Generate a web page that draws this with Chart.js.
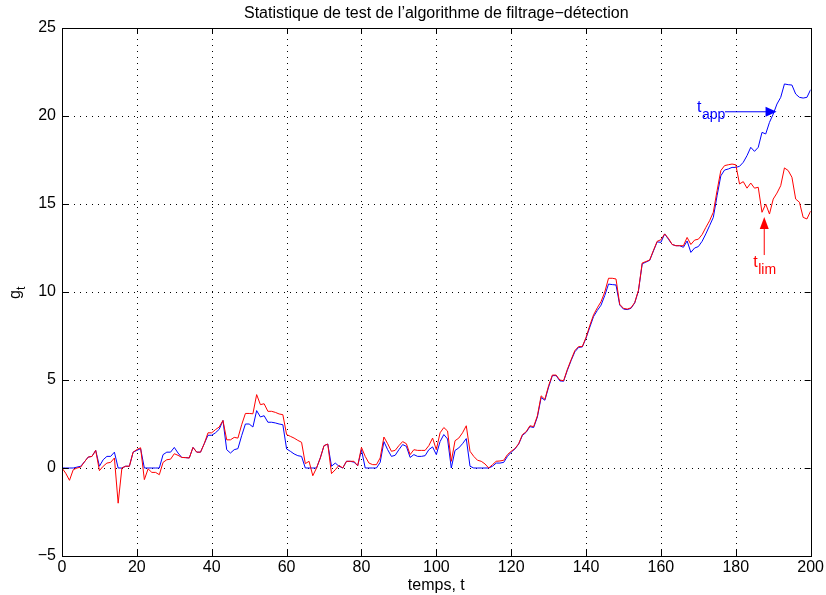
<!DOCTYPE html>
<html>
<head>
<meta charset="utf-8">
<script src="https://cdn.jsdelivr.net/npm/chart.js@4/dist/chart.umd.min.js"></script>
<style>
  html, body { margin: 0; padding: 0; background: #fff; }
  #wrap { width: 826px; height: 595px; }
</style>
</head>
<body>
<div id="wrap"><canvas id="chart" width="826" height="595"></canvas></div>
<script>
// valeurs, t = 0..200
const gBleu = [
  0, 0, 0, 0, 0.05, 0.1, 0.35, 0.62, 0.66, 1.0,
  0.1, 0.47, 0.66, 0.66, 0.9, 0, 0, 0.1, 0.1, 0.9,
  1.0, 1.1, 0, 0, 0, 0, 0, 0.76, 0.9, 0.9,
  1.17, 0.85, 0.6, 0.59, 0.57, 1.17, 0.9, 0.9, 1.38, 1.86,
  1.86, 2.0, 2.2, 2.7, 1.04, 0.85, 1.04, 1.1, 1.84, 2.5,
  2.5, 2.33, 3.26, 2.9, 2.97, 2.6, 2.6, 2.56, 2.5, 2.46,
  1.08, 0.95, 0.8, 0.7, 0.66, 0, 0, 0, 0, 0.57,
  1.27, 1.36, 0.1, 0.28, 0.1, 0, 0.38, 0.38, 0.33, 0.13,
  1.04, 0, 0, 0, 0, 0.32, 1.5, 1.04, 0.66, 0.72,
  1.04, 1.33, 1.23, 0.6, 0.76, 0.66, 0.66, 0.7, 1.04, 1.2,
  0.76, 1.5, 1.9, 1.65, 0, 1.0, 1.14, 1.38, 1.67, 0.1,
  0, 0, 0, 0, 0, 0.1, 0.28, 0.28, 0.32, 0.66,
  0.9, 1.08, 1.36, 1.85, 2.03, 2.35, 2.3, 2.9, 4.0, 3.85,
  4.6, 5.25, 5.25, 4.95, 4.93, 5.55, 6.1, 6.6, 6.85, 6.88,
  7.38, 8.0, 8.6, 8.95, 9.25, 9.8, 10.45, 10.42, 10.4, 9.26,
  9.03, 9.0, 9.07, 9.38, 10.07, 11.6, 11.7, 11.8, 12.33, 12.85,
  12.82, 13.3, 13.0, 12.7, 12.63, 12.63, 12.54, 12.9, 12.25, 12.5,
  12.58, 12.88, 13.3, 13.77, 14.24, 15.47, 16.6, 16.93, 16.99, 17.08,
  17.08, 17.14, 17.37, 17.75, 18.22, 17.99, 18.22, 19.07, 18.98, 19.64,
  20.11, 20.68, 21.06, 21.82, 21.78, 21.76, 21.25, 21.06, 21.02, 21.06,
  21.5
];
const gRouge = [
  0, -0.3, -0.7, -0.1, 0, 0.05, 0.35, 0.62, 0.66, 1.0,
  -0.15, 0.1, 0.28, 0.32, 0.57, -2.0, 0, 0.1, 0.1, 0.9,
  1.05, 1.15, -0.66, -0.05, -0.25, -0.25, -0.38, 0.32, 0.47, 0.5,
  0.81, 0.72, 0.6, 0.59, 0.57, 1.17, 0.9, 0.9, 1.38, 2.0,
  2.0, 2.18, 2.33, 2.7, 1.6, 1.6, 1.74, 1.7, 2.46, 3.1,
  3.1, 3.08, 4.17, 3.6, 3.65, 3.22, 3.22, 3.16, 3.07, 3.03,
  1.9, 1.8, 1.7, 1.57, 1.46, 0.25, 0.38, -0.44, 0, 0.57,
  1.27, 1.36, -0.32, -0.1, 0.15, 0, 0.38, 0.38, 0.38, 0.13,
  1.17, 0.66, 0.28, 0.19, 0.19, 0.57, 1.76, 1.38, 0.95, 1.0,
  1.27, 1.5, 1.38, 0.76, 1.04, 1.0, 1.0, 1.0, 1.27, 1.7,
  1.04, 2.0, 2.3, 2.1, 0.38, 1.55, 1.7, 2.0, 2.4, 0.95,
  0.66, 0.44, 0.38, 0.23, 0, 0.19, 0.38, 0.4, 0.44, 0.76,
  0.95, 1.1, 1.38, 1.9, 2.06, 2.4, 2.35, 2.97, 4.1, 3.9,
  4.68, 5.28, 5.28, 5.0, 4.96, 5.6, 6.15, 6.67, 6.9, 6.9,
  7.42, 8.1, 8.7, 9.1, 9.45, 10.0, 10.78, 10.78, 10.74, 9.3,
  9.07, 9.03, 9.1, 9.4, 10.1, 11.65, 11.73, 11.82, 12.36, 12.88,
  12.97, 13.3, 13.05, 12.7, 12.63, 12.63, 12.63, 13.1, 12.7, 12.95,
  13.0, 13.26, 13.67, 14.05, 14.53, 15.76, 16.9, 17.18, 17.23, 17.27,
  17.23, 16.14, 16.27, 15.9, 16.19, 15.9, 15.95, 14.53, 15.0, 14.43,
  15.28, 15.62, 16.04, 17.05, 16.9, 16.52, 15.28, 15.1, 14.24, 14.15,
  14.6
];
const temps = gBleu.map((_, i) => i);
const xTicks = [0, 20, 40, 60, 80, 100, 120, 140, 160, 180, 200];
const yTicks = [-5, 0, 5, 10, 15, 20, 25];

const titre = 'Statistique de test de l\u2019algorithme de filtrage\u2212d\u00e9tection';
const FONT = "'Liberation Sans', Arial, Helvetica, sans-serif";

function pts(vals) {
  return vals.map((v, i) => ({ x: temps[i], y: v }));
}

// fleches annotees (coordonnees en unites des axes)
const flecheApp = { x0: 177.1, x1: 190.9, y: 20.24 };
const flecheLim = { x: 187.6, y0: 12.1, y1: 14.26 };

function arrowHead(ctx, tx, ty, dx, dy, len, half) {
  const n = Math.hypot(dx, dy);
  const ux = dx / n, uy = dy / n;
  const bx = tx - ux * len, by = ty - uy * len;
  ctx.beginPath();
  ctx.moveTo(tx, ty);
  ctx.lineTo(bx - uy * half, by + ux * half);
  ctx.lineTo(bx + uy * half, by - ux * half);
  ctx.closePath();
  ctx.fill();
}

const matlabLook = {
  id: 'matlabLook',
  beforeDatasetsDraw(chart) {
    const { ctx, chartArea: a, scales: { x, y } } = chart;
    ctx.save();
    ctx.strokeStyle = '#000';
    ctx.lineWidth = 1;
    ctx.setLineDash([1, 5]);
    xTicks.slice(1, -1).forEach(v => {
      const px = Math.round(x.getPixelForValue(v)) + 0.5;
      ctx.beginPath(); ctx.moveTo(px, a.bottom); ctx.lineTo(px, a.top); ctx.stroke();
    });
    yTicks.slice(1, -1).forEach(v => {
      const py = Math.round(y.getPixelForValue(v)) + 0.5;
      ctx.beginPath(); ctx.moveTo(a.left, py); ctx.lineTo(a.right, py); ctx.stroke();
    });
    ctx.restore();
  },
  afterDraw(chart) {
    const { ctx, chartArea: a, scales: { x, y } } = chart;
    ctx.save();
    // cadre + graduations interieures
    ctx.strokeStyle = '#000';
    ctx.lineWidth = 1;
    ctx.strokeRect(Math.round(a.left) + 0.5, Math.round(a.top) + 0.5,
      Math.round(a.right - a.left), Math.round(a.bottom - a.top));
    const tl = 6;
    ctx.beginPath();
    xTicks.forEach(v => {
      const px = Math.round(x.getPixelForValue(v)) + 0.5;
      ctx.moveTo(px, a.bottom); ctx.lineTo(px, a.bottom - tl);
      ctx.moveTo(px, a.top); ctx.lineTo(px, a.top + tl);
    });
    yTicks.forEach(v => {
      const py = Math.round(y.getPixelForValue(v)) + 0.5;
      ctx.moveTo(a.left, py); ctx.lineTo(a.left + tl, py);
      ctx.moveTo(a.right, py); ctx.lineTo(a.right - tl, py);
    });
    ctx.stroke();

    // titre
    ctx.fillStyle = '#000';
    ctx.font = '16px ' + FONT;
    ctx.textAlign = 'center';
    ctx.textBaseline = 'alphabetic';
    ctx.fillText(titre, (a.left + a.right) / 2, 18);

    // label x
    ctx.fillText('temps, t', (a.left + a.right) / 2, 590);

    // label y : g indice t
    ctx.save();
    ctx.translate(20, (a.top + a.bottom) / 2);
    ctx.rotate(-Math.PI / 2);
    ctx.textAlign = 'left';
    ctx.font = '16px ' + FONT;
    ctx.fillText('g', -7, 0);
    ctx.font = '12px ' + FONT;
    ctx.fillText('t', 2, 5);
    ctx.restore();

    // t_app
    ctx.strokeStyle = '#0000ff';
    ctx.fillStyle = '#0000ff';
    const ax0 = x.getPixelForValue(flecheApp.x0);
    const ax1 = x.getPixelForValue(flecheApp.x1);
    const ay = y.getPixelForValue(flecheApp.y);
    ctx.beginPath(); ctx.moveTo(ax0, ay); ctx.lineTo(ax1 - 8, ay); ctx.stroke();
    arrowHead(ctx, ax1, ay, 1, 0, 11, 5);
    ctx.textAlign = 'left';
    ctx.font = '16px ' + FONT;
    ctx.fillText('t', ax0 - 28, ay);
    ctx.font = '14px ' + FONT;
    ctx.fillText('app', ax0 - 23, ay + 7);

    // t_lim
    ctx.strokeStyle = '#ff0000';
    ctx.fillStyle = '#ff0000';
    const lx = x.getPixelForValue(flecheLim.x);
    const ly0 = y.getPixelForValue(flecheLim.y0);
    const ly1 = y.getPixelForValue(flecheLim.y1);
    ctx.beginPath(); ctx.moveTo(lx, ly0); ctx.lineTo(lx, ly1 + 8); ctx.stroke();
    arrowHead(ctx, lx, ly1, 0, -1, 12, 4.5);
    ctx.font = '16px ' + FONT;
    ctx.fillText('t', lx - 11, ly0 + 12);
    ctx.font = '14px ' + FONT;
    ctx.fillText('lim', lx - 6, ly0 + 19);
    ctx.restore();
  }
};

new Chart(document.getElementById('chart'), {
  type: 'line',
  data: {
    datasets: [
      {
        label: 'rouge',
        data: pts(gRouge),
        borderColor: '#ff0000',
        borderWidth: 1,
        pointRadius: 0,
        tension: 0,
        fill: false
      },
      {
        label: 'bleu',
        data: pts(gBleu),
        borderColor: '#0000ff',
        borderWidth: 1,
        pointRadius: 0,
        tension: 0,
        fill: false
      }
    ]
  },
  options: {
    responsive: false,
    animation: false,
    events: [],
    layout: { padding: { top: 28, right: 15, left: 0, bottom: 0 } },
    plugins: {
      legend: { display: false },
      title: { display: false },
      tooltip: { enabled: false }
    },
    scales: {
      x: {
        type: 'linear',
        min: 0,
        max: 200,
        afterFit(s) { s.height = 39; },
        afterBuildTicks(s) { s.ticks = xTicks.map(v => ({ value: v })); },
        grid: { display: false, drawTicks: false },
        border: { display: false },
        ticks: {
          color: '#000',
          padding: 2,
          maxRotation: 0,
          autoSkip: false,
          font: { family: FONT, size: 16 }
        }
      },
      y: {
        type: 'linear',
        min: -5,
        max: 25,
        afterFit(s) { s.width = 62; },
        afterBuildTicks(s) { s.ticks = yTicks.map(v => ({ value: v })); },
        grid: { display: false, drawTicks: false },
        border: { display: false },
        ticks: {
          color: '#000',
          padding: 6,
          autoSkip: false,
          font: { family: FONT, size: 16 },
          callback: v => (v < 0 ? '\u2212' + Math.abs(v) : String(v))
        }
      }
    }
  },
  plugins: [matlabLook]
});
</script>
</body>
</html>
